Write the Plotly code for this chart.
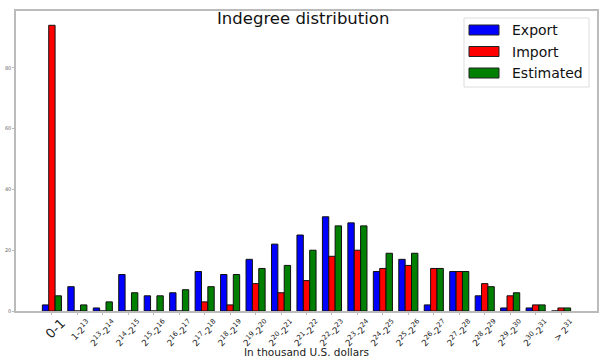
import plotly.graph_objects as go


def sup(n):
    return f'<sup><span style="font-size:6.8px">{n}</span></sup>'


categories = ['<span style="font-size:13px">0-1</span>', "1-2" + sup(13)] + \
    [f"2{sup(k)}-2{sup(k + 1)}" for k in range(13, 31)] + ["> 2" + sup(31)]
export_vals = [2, 8, 1, 12, 5, 6, 13, 12, 17, 22, 25, 31, 29, 13, 17, 2, 13, 5, 1, 1, 0]
import_vals = [94, 0, 0, 0, 0, 0, 3, 2, 9, 6, 10, 18, 20, 14, 15, 14, 13, 9, 5, 2, 1]
estimated_vals = [5, 2, 3, 6, 5, 7, 8, 12, 14, 15, 20, 28, 28, 19, 19, 14, 13, 8, 6, 2, 1]
series_names = ["Export", "Import", "Estimated"]
series_colors = ["#0000ff", "#ff0000", "#008000"]
y_ticks = [0, 20, 40, 60, 80]

W, H = 601, 358
L, R, T, B = 16, 4, 11, 47
PW, PH = W - L - R, H - T - B


def px(xp):
    return (xp - L) / PW


def py(yp):
    return (H - B - yp) / PH


x = list(range(len(categories)))
fig = go.Figure()
for name, vals, col in zip(series_names, [export_vals, import_vals, estimated_vals], series_colors):
    fig.add_trace(go.Bar(x=x, y=vals, name=name, showlegend=False,
                         marker=dict(color=col, line=dict(color="#111111", width=1))))

shapes = [dict(type="rect", xref="paper", yref="paper", x0=px(464), x1=px(589), y0=py(87), y1=py(18),
               line=dict(color="#dddddd", width=1), fillcolor="white", layer="above")]
annotations = [
    dict(text="Indegree distribution", xref="paper", yref="paper", x=px(303), y=py(19),
         xanchor="center", yanchor="middle", showarrow=False, font=dict(size=16.5, color="#111111")),
    dict(text="In thousand U.S. dollars", xref="paper", yref="paper", x=px(306), y=py(352),
         xanchor="center", yanchor="middle", showarrow=False, font=dict(size=10.5, color="#222222")),
]
for i, (name, col) in enumerate(zip(series_names, series_colors)):
    cy = 30 + i * 21.5
    shapes.append(dict(type="rect", xref="paper", yref="paper", x0=px(469), x1=px(499),
                       y0=py(cy + 5), y1=py(cy - 5), fillcolor=col, line=dict(color="#222222", width=1),
                       layer="above"))
    annotations.append(dict(text=name, xref="paper", yref="paper", x=px(510), y=py(cy),
                            xanchor="left", yanchor="middle", showarrow=False,
                            font=dict(size=14, color="#111111")))

fig.update_layout(
    width=W, height=H,
    margin=dict(l=L, r=R, t=T, b=B, autoexpand=False),
    paper_bgcolor="white", plot_bgcolor="white",
    barmode="group", bargap=0.25, bargroupgap=0,
    font=dict(family="DejaVu Sans", color="#222222"),
    showlegend=False, shapes=shapes, annotations=annotations,
)
fig.update_xaxes(range=[-1.41, 21.41], tickmode="array", tickvals=x, ticktext=categories,
                 tickangle=-45, tickfont=dict(size=9, color="#222222"), ticklabelshift=11,
                 showline=True, linecolor="#bbbbbb", linewidth=1.5, mirror=True, automargin=False,
                 ticks="outside", ticklen=2, tickcolor="#bbbbbb", showgrid=False, zeroline=False)
fig.update_yaxes(range=[0, 98.7], tickmode="array", tickvals=y_ticks, tickfont=dict(size=5, color="#666666"),
                 showline=True, linecolor="#bbbbbb", linewidth=1.5, mirror=True, automargin=False,
                 ticks="outside", ticklen=2, tickcolor="#bbbbbb", showgrid=False, zeroline=False)
fig.write_html("out.html", config={"displayModeBar": False},
               post_script="document.body.style.margin='0';document.body.style.overflow='hidden';")
